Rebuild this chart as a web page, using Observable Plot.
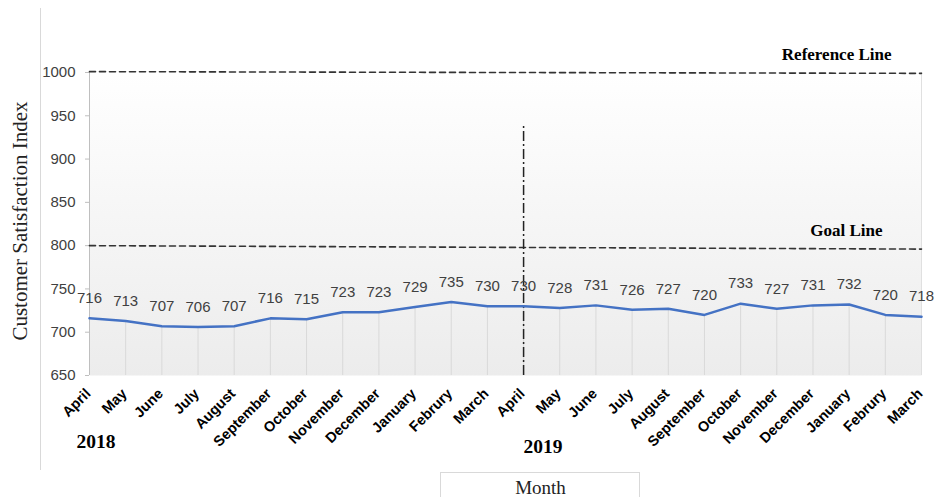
<!DOCTYPE html>
<html>
<head>
<meta charset="utf-8">
<script src="https://cdn.jsdelivr.net/npm/d3@7"></script>
<script src="https://cdn.jsdelivr.net/npm/@observablehq/plot@0.6"></script>
<style>
  html, body { margin: 0; padding: 0; background: white; }
  #chart svg { display: block; }
</style>
</head>
<body>
<div id="chart"></div>
<script>
const months = ["April","May","June","July","August","September","October","November","December","January","Februry","March",
                "April","May","June","July","August","September","October","November","December","January","Februry","March"];
const values = [716,713,707,706,707,716,715,723,723,729,735,730,730,728,731,726,727,720,733,727,731,732,720,718];
const yTicks = [650,700,750,800,850,900,950,1000];
const referenceLine = [1001, 999];
const goalLine = [800, 796];
const dividerIndex = 12;
const dividerTop = 939;
const years = [{label: "2018", index: 0}, {label: "2019", index: 12}];

const data = values.map((v, i) => ({i, v, m: months[i]}));
const last = values.length - 1;
const refData = [{i: 0, v: referenceLine[0]}, {i: last, v: referenceLine[1]}];
const goalData = [{i: 0, v: goalLine[0]}, {i: last, v: goalLine[1]}];

const sans = "'Liberation Sans', Arial, sans-serif";
const serif = "'Liberation Serif', 'Times New Roman', serif";

const chart = Plot.plot({
  width: 936,
  height: 497,
  marginTop: 72,
  marginBottom: 122,
  marginLeft: 89,
  marginRight: 15,
  style: {background: "white", overflow: "visible", fontFamily: sans},
  x: {type: "linear", domain: [0, last], axis: null},
  y: {domain: [650, 1000], axis: null},
  marks: [
    Plot.frame({fill: "url(#bgGrad)", stroke: null}),
    Plot.ruleX(data, {x: "i", y1: 650, y2: "v", stroke: "#d9d9d9", strokeWidth: 1}),
    Plot.ruleX([last], {stroke: "#e0e0e0", strokeWidth: 1}),
    Plot.ruleX([0], {stroke: "#bfbfbf", strokeWidth: 1}),
    Plot.axisY({ticks: yTicks, tickFormat: d => String(d), tickSize: 4, tickPadding: 10, fontSize: 15, fill: "#404040", stroke: "#bfbfbf", label: null}),
    Plot.line(refData, {x: "i", y: "v", stroke: "#333", strokeWidth: 1.6, strokeDasharray: "6,4"}),
    Plot.line(goalData, {x: "i", y: "v", stroke: "#333", strokeWidth: 1.6, strokeDasharray: "6,4"}),
    Plot.ruleX([dividerIndex], {y1: 650, y2: dividerTop, stroke: "#222", strokeWidth: 1.5, strokeDasharray: "10,3,2,3"}),
    Plot.line(data, {x: "i", y: "v", stroke: "#4472C4", strokeWidth: 2.5}),
    Plot.text(data, {x: "i", y: "v", text: d => String(d.v), dy: -20, fontSize: 15, fill: "#404040", fontFamily: sans}),
    Plot.text(data, {x: "i", frameAnchor: "bottom", text: "m", rotate: -45, textAnchor: "end", dx: 2, dy: 19, fontSize: 14.5, fontWeight: "bold", fill: "#000", fontFamily: sans}),
    Plot.text(["Reference Line"], {x: last, y: referenceLine[1], text: d => d, textAnchor: "end", dx: -30, dy: -19, fontSize: 17, fontWeight: "bold", fontFamily: serif, fill: "#000"}),
    Plot.text(["Goal Line"], {x: last, y: goalLine[1], text: d => d, textAnchor: "end", dx: -39, dy: -19, fontSize: 17, fontWeight: "bold", fontFamily: serif, fill: "#000"}),
    Plot.text([years[0]], {x: "index", frameAnchor: "bottom", text: "label", textAnchor: "start", dx: -13, dy: 72, fontSize: 19.5, fontWeight: "bold", fontFamily: serif, fill: "#000"}),
    Plot.text([years[1]], {x: "index", frameAnchor: "bottom", text: "label", textAnchor: "start", dx: 0, dy: 77, fontSize: 19.5, fontWeight: "bold", fontFamily: serif, fill: "#000"}),
    Plot.text(["Customer Satisfaction Index"], {frameAnchor: "left", text: d => d, rotate: -90, textAnchor: "middle", dx: -69, dy: -3, fontSize: 21, fontFamily: serif, fill: "#222"}),
    Plot.text(["Month"], {frameAnchor: "bottom", text: d => d, dx: 35, dy: 118, fontSize: 19, fontFamily: serif, fill: "#222"})
  ]
});

const svg = d3.select(chart);
const defs = svg.insert("defs", ":first-child");
const grad = defs.append("linearGradient").attr("id", "bgGrad").attr("x1", 0).attr("y1", 0).attr("x2", 0).attr("y2", 1);
grad.append("stop").attr("offset", "0%").attr("stop-color", "#ffffff");
grad.append("stop").attr("offset", "100%").attr("stop-color", "#ececec");

// decorative chart-area borders
const deco = svg.append("g").attr("stroke", "#d9d9d9").attr("fill", "none");
deco.append("line").attr("x1", 40.5).attr("x2", 40.5).attr("y1", 8).attr("y2", 470);
deco.append("line").attr("x1", 440).attr("x2", 640).attr("y1", 472.5).attr("y2", 472.5);
deco.append("line").attr("x1", 440.5).attr("x2", 440.5).attr("y1", 472).attr("y2", 497);
deco.append("line").attr("x1", 639.5).attr("x2", 639.5).attr("y1", 472).attr("y2", 497);

document.getElementById("chart").appendChild(chart);
</script>
</body>
</html>
